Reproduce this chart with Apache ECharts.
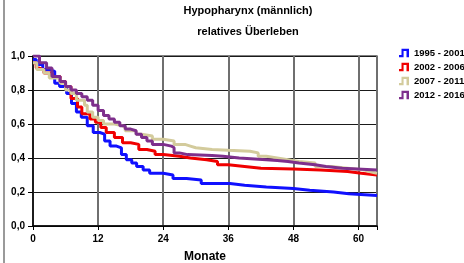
<!DOCTYPE html>
<html lang="de">
<head>
    <meta charset="UTF-8">
    <title>Hypopharynx (männlich) - relatives Überleben</title>
    <script src="https://cdn.jsdelivr.net/npm/echarts@6/dist/echarts.min.js"></script>
    <style>
        html, body { margin: 0; padding: 0; background: #fff; }
        #main { width: 464px; height: 263px; }
    </style>
</head>
<body>
<div id="main"></div>
<script type="text/javascript">
  // Monate / relatives Überleben
  var names = ['1995 - 2001', '2002 - 2006', '2007 - 2011', '2012 - 2016'];
  var colors = ['#1010ff', '#f00000', '#d3cb9c', '#7e2f8c'];

  var m1995 = [0, 0.6, 1.8, 3.1, 4, 4.9, 6.2, 7.1, 8, 8.9, 10, 11.1, 12.3, 13.2, 14.2, 15.4, 16.3, 17.2, 18.2, 19.1, 20.3, 21.5, 24, 25.8, 28.3, 31, 36.3, 39, 43, 48, 51, 55.4, 58.2, 63.4];
  var v1995 = [0.98, 0.95, 0.92, 0.91, 0.84, 0.82, 0.78, 0.72, 0.67, 0.64, 0.59, 0.55, 0.54, 0.50, 0.47, 0.46, 0.42, 0.39, 0.37, 0.35, 0.33, 0.31, 0.30, 0.28, 0.27, 0.25, 0.24, 0.23, 0.22, 0.21, 0.20, 0.19, 0.18, 0.18];

  var m2002 = [0, 0.6, 1, 2, 3.5, 5, 6, 7, 8.2, 9, 10.5, 11.5, 12.5, 13.5, 15, 16.5, 18, 19.5, 21, 22.5, 24, 27, 29, 32, 34, 36, 39, 42, 48, 53, 58, 60.5, 63.4];
  var v2002 = [0.96, 0.93, 0.92, 0.90, 0.88, 0.85, 0.82, 0.75, 0.70, 0.66, 0.63, 0.61, 0.58, 0.55, 0.52, 0.49, 0.48, 0.45, 0.44, 0.42, 0.41, 0.40, 0.39, 0.38, 0.36, 0.35, 0.34, 0.335, 0.33, 0.32, 0.31, 0.30, 0.30];

  var m2007 = [0, 0.7, 2, 3, 5, 6, 7, 8, 9.5, 10, 11, 12, 13, 15, 16.5, 17, 19, 20, 22, 24, 26, 28, 29, 30, 33, 36, 40, 41.5, 43, 45, 47, 49, 52, 55, 58, 61, 62, 63.4];
  var v2007 = [0.96, 0.92, 0.90, 0.87, 0.84, 0.80, 0.78, 0.74, 0.71, 0.67, 0.64, 0.62, 0.60, 0.59, 0.58, 0.56, 0.54, 0.53, 0.51, 0.50, 0.48, 0.47, 0.46, 0.45, 0.445, 0.44, 0.43, 0.41, 0.40, 0.39, 0.38, 0.37, 0.35, 0.34, 0.33, 0.32, 0.31, 0.31];

  var m2012 = [0, 1.2, 2.5, 3.5, 5, 6, 7, 8, 9, 10, 11, 12, 13, 14, 15, 16, 17, 18, 19, 20, 21, 22, 24, 25.5, 26, 27, 28.5, 33, 35, 38, 43, 45, 47, 49, 52, 54, 57, 63.4];
  var v2012 = [1.0, 0.96, 0.93, 0.88, 0.85, 0.82, 0.80, 0.78, 0.76, 0.74, 0.71, 0.68, 0.65, 0.63, 0.61, 0.59, 0.57, 0.56, 0.54, 0.52, 0.50, 0.48, 0.47, 0.46, 0.43, 0.42, 0.415, 0.41, 0.40, 0.39, 0.385, 0.38, 0.37, 0.36, 0.35, 0.34, 0.33, 0.33];

  var monthsList = [m1995, m2002, m2007, m2012];
  var valuesList = [v1995, v2002, v2007, v2012];

  var stepIcon = 'path://M0,7.5 L3,7.5 L3,0 L12,0 L12,10 L9,10 L9,2.5 L5.5,2.5 L5.5,10 L0,10 Z';
  var font = '"Liberation Sans", Arial, sans-serif';

  var myChart = echarts.init(document.getElementById('main'));

  var series = [];
  for (var i = 0; i < names.length; i++) {
    var pts = [];
    for (var j = 0; j < monthsList[i].length; j++) {
      pts.push([monthsList[i][j], valuesList[i][j]]);
    }
    series.push({
      name: names[i],
      type: 'line',
      step: 'end',
      symbol: 'none',
      animation: false,
      lineStyle: {color: colors[i], width: 3},
      itemStyle: {color: colors[i]},
      data: pts
    });
  }

  var option = {
    backgroundColor: '#fff',
    animation: false,
    title: [
      {
        text: 'Hypopharynx (männlich)',
        left: 248, top: 5, padding: 0, textAlign: 'center',
        textStyle: {fontFamily: font, fontSize: 11, fontWeight: 'bold', color: '#000'}
      },
      {
        text: 'relatives Überleben',
        left: 248, top: 26, padding: 0, textAlign: 'center',
        textStyle: {fontFamily: font, fontSize: 11, fontWeight: 'bold', color: '#000'}
      }
    ],
    legend: {
      orient: 'vertical',
      left: 399,
      top: 47,
      padding: 0,
      itemWidth: 10,
      itemHeight: 10,
      itemGap: 2,
      icon: stepIcon,
      textStyle: {fontFamily: font, fontSize: 9.5, fontWeight: 'bold', color: '#000', lineHeight: 12},
      data: names
    },
    grid: {
      left: 33,
      right: 87,
      top: 56,
      bottom: 37,
      outerBoundsMode: 'none',
      show: true,
      borderColor: '#000',
      borderWidth: 1.2
    },
    xAxis: {
      type: 'value',
      min: 0,
      max: 63.4,
      interval: 12,
      name: 'Monate',
      nameLocation: 'middle',
      nameGap: 25,
      nameTextStyle: {fontFamily: font, fontSize: 12, fontWeight: 'bold', color: '#000'},
      axisLine: {lineStyle: {color: '#000', width: 1.5}},
      axisTick: {show: true, length: 4, lineStyle: {color: '#000'}},
      axisLabel: {
        margin: 8,
        fontFamily: font, fontSize: 10, fontWeight: 'bold', color: '#000',
        formatter: function (v) { return v % 12 === 0 ? String(v) : ''; }
      },
      splitLine: {show: true, lineStyle: {color: '#6f6f6f', width: 2}}
    },
    yAxis: {
      type: 'value',
      min: 0,
      max: 1,
      interval: 0.2,
      axisLine: {show: true, lineStyle: {color: '#000', width: 1.5}},
      axisTick: {show: true, length: 5, lineStyle: {color: '#000'}},
      axisLabel: {
        margin: 8,
        fontFamily: font, fontSize: 10, fontWeight: 'bold', color: '#000',
        formatter: function (v) { return v.toFixed(1).replace('.', ','); }
      },
      splitLine: {show: true, lineStyle: {color: '#1a1a1a', width: 1.2}}
    },
    graphic: [
      {type: 'rect', left: 3, top: 0, shape: {width: 2, height: 263}, style: {fill: '#9a9a9a'}}
    ],
    series: series
  };
  myChart.setOption(option);

  window.addEventListener('resize', function () {
    myChart.resize();
  });
</script>
</body>
</html>
